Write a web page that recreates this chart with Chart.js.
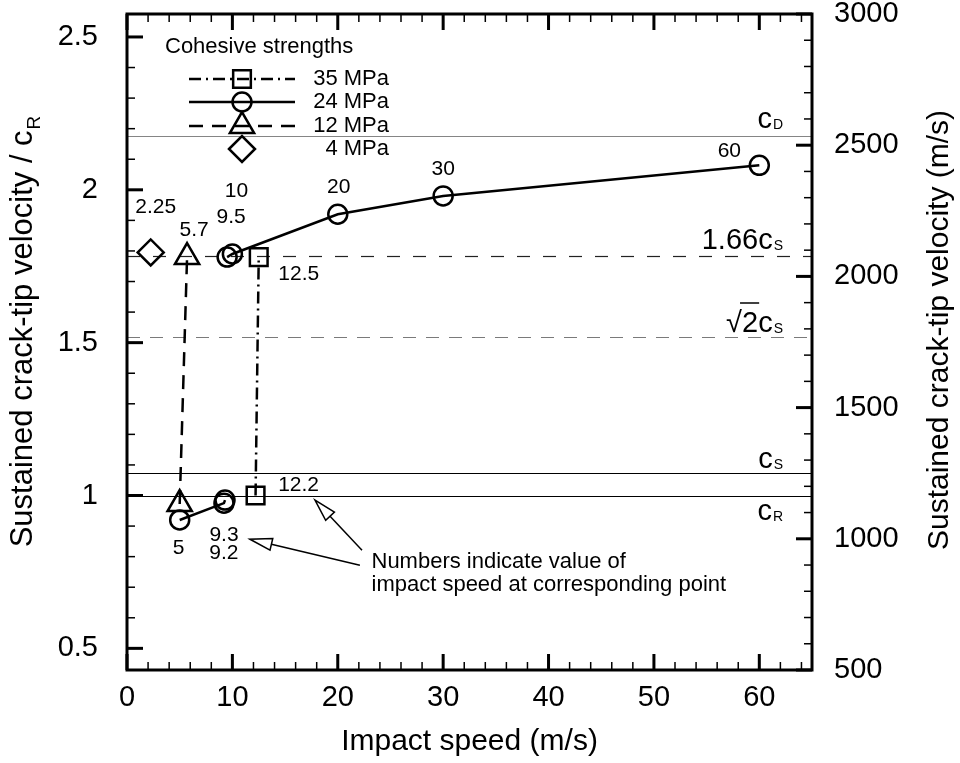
<!DOCTYPE html>
<html>
<head>
<meta charset="utf-8">
<script src="https://cdn.jsdelivr.net/npm/chart.js@4.4.0/dist/chart.umd.min.js"></script>
<style>
  html, body { margin: 0; padding: 0; background: #fff; }
  #wrap { width: 960px; height: 763px; position: relative; }
</style>
</head>
<body>
<div id="wrap"><canvas id="crack"></canvas></div>
<script>
// wave speeds of the plate material (m/s)
const cR = 1165;
const cS = 1252;
const cD = 2535;

// impact speed (m/s) vs sustained crack-tip velocity / cR, one run per cohesive strength
const speed35 = [12.2, 12.5];
const vel35 = [1.0, 1.78];
const speed24 = [5, 9.2, 9.3, 9.5, 10, 20, 30, 60];
const vel24 = [0.92, 0.975, 0.985, 1.78, 1.79, 1.92, 1.98, 2.08];
const break24 = 2;            // no line between the 9.3 and 9.5 points
const speed12 = [5, 5.7];
const vel12 = [0.972, 1.78];
const speed4 = [2.25];
const vel4 = [1.795];

const strengths = ['35 MPa', '24 MPa', '12 MPa', '4 MPa'];

// axis ticks
const xTicks = [0, 10, 20, 30, 40, 50, 60];
const yTicks = [0.5, 1, 1.5, 2, 2.5];
const y2Ticks = [500, 1000, 1500, 2000, 2500, 3000];

// reference speeds, in units of cR
const refLines = [
  { v: cD / cR, main: 'c', sub: 'D', color: '#858585', dash: [], dy: -9 },
  { v: 1.66 * cS / cR, main: '1.66c', sub: 'S', color: '#222', dash: [13, 13], dy: -8 },
  { v: Math.SQRT2 * cS / cR, main: '\u221A2c', sub: 'S', color: '#7a7a7a', dash: [13, 10], dy: -6, root: true },
  { v: cS / cR, main: 'c', sub: 'S', color: '#000', dash: [], dy: -6 },
  { v: 1, main: 'c', sub: 'R', color: '#000', dash: [], dy: 23 }
];

// where each speed label sits relative to its point (px)
const labelOffsets = [
  [[43, -10], [40, 17]],
  [[-1, 28], [0, 50], [-1, 35], [4, -40], [4, -63], [1, -27], [0, -27], [-30, -14]],
  [null, [7, -27]],
  [[5, -45]]
];

const FONT = "'Liberation Sans', Arial, Helvetica, sans-serif";

function pts(xs, ys) {
  return xs.map((x, i) => ({ x: x, y: ys[i] }));
}

const series = [
  { label: strengths[0], data: pts(speed35, vel35), pointStyle: 'rect', pointRadius: 12.5, borderDash: [12, 5, 2, 5], showLine: true },
  { label: strengths[1], data: pts(speed24, vel24), pointStyle: 'circle', pointRadius: 9.5, borderDash: [], showLine: true,
    segment: { borderColor: c => c.p0DataIndex === break24 ? 'rgba(0,0,0,0)' : undefined } },
  { label: strengths[2], data: pts(speed12, vel12), pointStyle: 'triangle', pointRadius: 14, borderDash: [14, 9], showLine: true },
  { label: strengths[3], data: pts(speed4, vel4), pointStyle: 'rectRot', pointRadius: 13, borderDash: [], showLine: false }
].map(s => Object.assign({
  borderColor: '#000',
  borderWidth: 2.5,
  pointBorderColor: '#000',
  pointBackgroundColor: 'rgba(0,0,0,0)',
  pointBorderWidth: 2.5,
  pointHoverRadius: 0,
  tension: 0,
  xAxisID: 'x',
  yAxisID: 'y'
}, s));

function tickRun(ctx, scale, from, to, step, len, lw, draw) {
  const n = Math.round((to - from) / step);
  ctx.lineWidth = lw;
  for (let i = 0; i <= n; i++) {
    const p = scale.getPixelForValue(from + i * step);
    draw(p, len);
  }
}

function subText(ctx, main, sub, xRight, base, size, subSize) {
  ctx.font = size + 'px ' + FONT;
  const wm = ctx.measureText(main).width;
  ctx.font = subSize + 'px ' + FONT;
  const ws = ctx.measureText(sub).width;
  const x0 = xRight - wm - ws - 1;
  ctx.font = size + 'px ' + FONT;
  ctx.fillText(main, x0, base);
  ctx.font = subSize + 'px ' + FONT;
  ctx.fillText(sub, x0 + wm + 1, base + 1);
  return x0;
}

function arrow(ctx, x0, y0, x1, y1) {
  const ang = Math.atan2(y1 - y0, x1 - x0);
  const L = 22, W = 6;
  const bx = x1 - L * Math.cos(ang), by = y1 - L * Math.sin(ang);
  ctx.beginPath();
  ctx.moveTo(x0, y0);
  ctx.lineTo(bx, by);
  ctx.stroke();
  ctx.beginPath();
  ctx.moveTo(x1, y1);
  ctx.lineTo(bx + W * Math.sin(ang), by - W * Math.cos(ang));
  ctx.lineTo(bx - W * Math.sin(ang), by + W * Math.cos(ang));
  ctx.closePath();
  ctx.fillStyle = '#fff';
  ctx.fill();
  ctx.stroke();
}

// keep the plot box where it is: no extra room for labels at the ends
function noEndPadding(s) {
  s.paddingTop = 0;
  s.paddingBottom = 0;
  s.paddingLeft = 0;
  s.paddingRight = 0;
}

const decorations = {
  id: 'decorations',
  beforeDatasetsDraw(chart) {
    const { ctx, chartArea: a, scales: { y } } = chart;
    ctx.save();
    ctx.fillStyle = '#000';
    ctx.textBaseline = 'alphabetic';
    refLines.forEach(r => {
      const py = Math.round(y.getPixelForValue(r.v)) + 0.5;
      ctx.strokeStyle = r.color;
      ctx.lineWidth = 1.2;
      ctx.setLineDash(r.dash);
      ctx.beginPath();
      ctx.moveTo(a.left, py);
      ctx.lineTo(a.right, py);
      ctx.stroke();
      ctx.setLineDash([]);
      const base = py + r.dy;
      const x0 = subText(ctx, r.main, r.sub, a.right - 29, base, 29, 14);
      if (r.root) {
        ctx.font = '29px ' + FONT;
        const w1 = ctx.measureText('\u221A').width;
        const w2 = ctx.measureText('\u221A2').width;
        ctx.strokeStyle = '#000';
        ctx.lineWidth = 1.5;
        ctx.beginPath();
        ctx.moveTo(x0 + w1 - 2, base - 28.5);
        ctx.lineTo(x0 + w2 + 1, base - 28.5);
        ctx.stroke();
      }
    });
    ctx.restore();
  },
  afterDatasetsDraw(chart) {
    const { ctx, chartArea: a, scales: { x, y, y2 } } = chart;
    ctx.save();
    ctx.strokeStyle = '#000';
    ctx.fillStyle = '#000';

    // speed labels beside the points
    ctx.font = '21px ' + FONT;
    ctx.textAlign = 'center';
    ctx.textBaseline = 'middle';
    chart.data.datasets.forEach((ds, i) => {
      ds.data.forEach((p, j) => {
        const off = labelOffsets[i][j];
        if (!off) return;
        ctx.fillText(String(p.x), x.getPixelForValue(p.x) + off[0], y.getPixelForValue(p.y) + off[1]);
      });
    });

    // note with its two arrows
    const note = { x: 23.2, y: 0.782 };
    const nx = x.getPixelForValue(note.x), ny = y.getPixelForValue(note.y);
    ctx.textAlign = 'left';
    ctx.font = '22px ' + FONT;
    ctx.fillText('Numbers indicate value of', nx, ny);
    ctx.fillText('impact speed at corresponding point', nx, ny + 23);
    ctx.lineWidth = 1.5;
    arrow(ctx, x.getPixelForValue(22.3), y.getPixelForValue(0.821), x.getPixelForValue(17.84), y.getPixelForValue(0.985));
    arrow(ctx, x.getPixelForValue(22.1), y.getPixelForValue(0.772), x.getPixelForValue(11.67), y.getPixelForValue(0.857));

    // legend
    ctx.fillStyle = '#000';
    ctx.textAlign = 'left';
    ctx.font = '22px ' + FONT;
    ctx.fillText('Cohesive strengths', a.left + 38, a.top + 33);
    const rows = [65, 88, 112, 135];
    chart.data.datasets.forEach((ds, i) => {
      const ry = a.top + rows[i];
      const cx = a.left + 115;
      if (ds.showLine) {
        ctx.lineWidth = ds.borderWidth;
        ctx.setLineDash(ds.borderDash);
        ctx.beginPath();
        ctx.moveTo(a.left + 62, ry);
        ctx.lineTo(a.left + 168, ry);
        ctx.stroke();
        ctx.setLineDash([]);
      }
      ctx.lineWidth = ds.pointBorderWidth;
      ctx.fillStyle = 'rgba(0,0,0,0)';
      Chart.helpers.drawPoint(ctx, { pointStyle: ds.pointStyle, radius: ds.pointRadius, rotation: 0, borderWidth: ds.pointBorderWidth }, cx, ry);
      ctx.fillStyle = '#000';
      ctx.textAlign = 'right';
      ctx.fillText(ds.label, a.left + 262, ry);
    });

    // frame
    ctx.lineWidth = 3;
    ctx.strokeRect(a.left, a.top, a.right - a.left, a.bottom - a.top);

    // inward tick marks
    const xt = (p, len) => {
      ctx.beginPath();
      ctx.moveTo(p, a.bottom); ctx.lineTo(p, a.bottom - len);
      ctx.moveTo(p, a.top); ctx.lineTo(p, a.top + len);
      ctx.stroke();
    };
    tickRun(ctx, x, 0, 64, 2, 8, 1.5, xt);
    tickRun(ctx, x, 0, 60, 10, 16, 3, xt);
    const yl = (p, len) => {
      ctx.beginPath();
      ctx.moveTo(a.left, p); ctx.lineTo(a.left + len, p);
      ctx.stroke();
    };
    tickRun(ctx, y, 0.5, 2.5, 0.1, 8, 1.5, yl);
    tickRun(ctx, y, 0.5, 2.5, 0.5, 16, 3, yl);
    const yr = (p, len) => {
      ctx.beginPath();
      ctx.moveTo(a.right, p); ctx.lineTo(a.right - len, p);
      ctx.stroke();
    };
    tickRun(ctx, y2, 500, 3000, 100, 8, 1.5, yr);
    tickRun(ctx, y2, 500, 3000, 500, 16, 3, yr);

    // vertical axis titles
    ctx.textBaseline = 'alphabetic';
    ctx.save();
    ctx.translate(32, 332);
    ctx.rotate(-Math.PI / 2);
    ctx.font = '31px ' + FONT;
    const tMain = 'Sustained crack-tip velocity / c';
    const wMain = ctx.measureText(tMain).width;
    ctx.font = '19px ' + FONT;
    const wSub = ctx.measureText('R').width;
    ctx.textAlign = 'left';
    const start = -(wMain + wSub) / 2;
    ctx.font = '31px ' + FONT;
    ctx.fillText(tMain, start, 0);
    ctx.font = '19px ' + FONT;
    ctx.fillText('R', start + wMain + 1, 8);
    ctx.restore();

    ctx.save();
    ctx.translate(948, 330);
    ctx.rotate(-Math.PI / 2);
    ctx.font = '30px ' + FONT;
    ctx.textAlign = 'center';
    ctx.fillText('Sustained crack-tip velocity (m/s)', 0, 0);
    ctx.restore();

    ctx.restore();
  }
};

const tickFont = { family: FONT, size: 29 };

new Chart(document.getElementById('crack'), {
  type: 'line',
  data: { datasets: series },
  plugins: [decorations],
  options: {
    responsive: true,
    maintainAspectRatio: false,
    animation: false,
    layout: { autoPadding: false, padding: { top: 14, left: 0, right: 0, bottom: 0 } },
    plugins: { legend: { display: false }, tooltip: { enabled: false } },
    scales: {
      x: {
        type: 'linear',
        position: 'bottom',
        min: 0,
        max: 65,
        grid: { display: false },
        border: { display: false },
        afterBuildTicks: s => { s.ticks = xTicks.map(v => ({ value: v })); },
        afterFit: s => { s.height = 93; noEndPadding(s); },
        ticks: { font: tickFont, color: '#000', padding: 3, maxRotation: 0, callback: v => String(v) },
        title: { display: true, text: 'Impact speed (m/s)', color: '#000', font: { family: FONT, size: 30 }, padding: { top: 0, bottom: 3 } }
      },
      y: {
        type: 'linear',
        position: 'left',
        min: 500 / cR,
        max: 3000 / cR,
        grid: { display: false },
        border: { display: false },
        afterBuildTicks: s => { s.ticks = yTicks.map(v => ({ value: v })); },
        afterFit: s => { s.width = 127; noEndPadding(s); },
        ticks: { font: tickFont, color: '#000', padding: 21, callback: v => String(v) }
      },
      y2: {
        type: 'linear',
        position: 'right',
        min: 500,
        max: 3000,
        grid: { display: false },
        border: { display: false },
        afterBuildTicks: s => { s.ticks = y2Ticks.map(v => ({ value: v })); },
        afterFit: s => { s.width = 148; noEndPadding(s); },
        ticks: { font: tickFont, color: '#000', padding: 14, callback: v => String(v) }
      }
    }
  }
});
</script>
</body>
</html>
